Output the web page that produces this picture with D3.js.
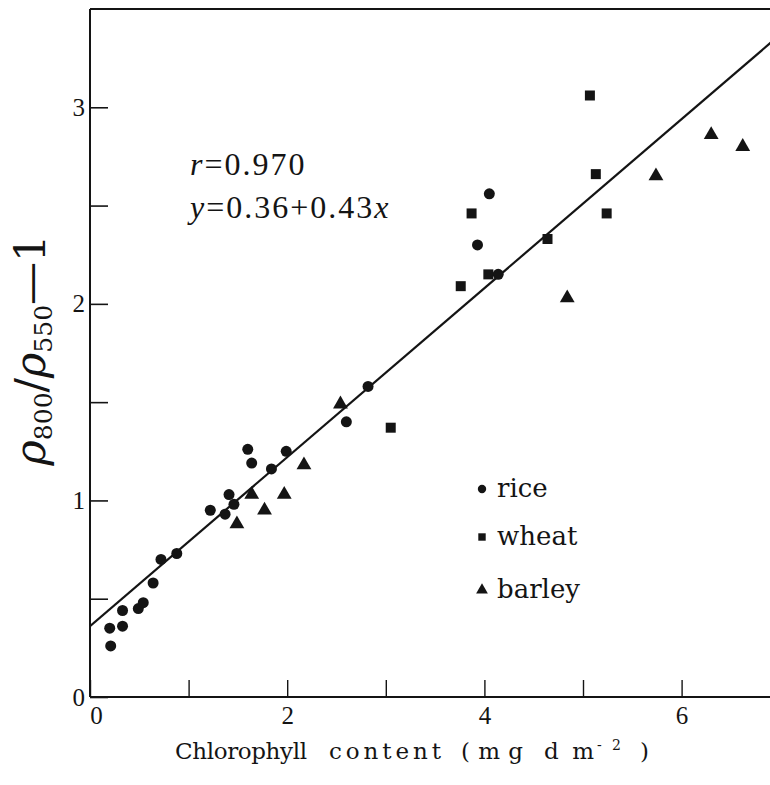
<!DOCTYPE html>
<html>
<head>
<meta charset="utf-8">
<script src="https://cdn.jsdelivr.net/npm/d3@7"></script>
<style>
  html, body { margin: 0; padding: 0; background: #fff; }
  svg { display: block; }
</style>
</head>
<body>
<svg id="chart" width="770" height="785"></svg>
<script>
// ---- data ----
const riceX  = [0.20, 0.21, 0.33, 0.33, 0.49, 0.54, 0.64, 0.72, 0.88, 1.22, 1.37, 1.41, 1.46, 1.60, 1.64, 1.84, 1.99, 2.60, 2.82, 3.93, 4.05, 4.14];
const riceY  = [0.35, 0.26, 0.36, 0.44, 0.45, 0.48, 0.58, 0.70, 0.73, 0.95, 0.93, 1.03, 0.98, 1.26, 1.19, 1.16, 1.25, 1.40, 1.58, 2.30, 2.56, 2.15];
const wheatX = [3.05, 3.76, 3.87, 4.04, 4.64, 5.07, 5.13, 5.24];
const wheatY = [1.37, 2.09, 2.46, 2.15, 2.33, 3.06, 2.66, 2.46];
const barleyX = [1.49, 1.64, 1.77, 1.97, 2.17, 2.54, 4.84, 5.74, 6.30, 6.62];
const barleyY = [0.88, 1.03, 0.95, 1.03, 1.18, 1.49, 2.03, 2.65, 2.86, 2.80];
const seriesNames = ["rice", "wheat", "barley"];
const xTickValues = [0, 1, 2, 3, 4, 5, 6];
const xTickLabels = [0, 2, 4, 6];
const yTickValues = [0, 0.5, 1, 1.5, 2, 2.5, 3];
const yTickLabels = [0, 1, 2, 3];
const fitIntercept = 0.36, fitSlope = 0.43;
const fitR = "0.970";
const xTitleWords = ["Chlorophyll", "content", "(mg", "dm"];

// ---- layout ----
const svg = d3.select("#chart");
const ink = "#141414";
const serif = "Liberation Serif, Times New Roman, DejaVu Serif, serif";
const plotLeft = 90, plotBottom = 697, plotTop = 9;
const x = d3.scaleLinear().domain([0, 7]).range([plotLeft, plotLeft + 7 * 98.6]);
const y = d3.scaleLinear().domain([0, 3.5]).range([plotBottom, plotTop]);

// frame lines
svg.append("line").attr("x1", plotLeft).attr("x2", 770).attr("y1", plotTop).attr("y2", plotTop)
  .attr("stroke", ink).attr("stroke-width", 2);
svg.append("line").attr("x1", plotLeft).attr("x2", plotLeft).attr("y1", plotTop).attr("y2", plotBottom)
  .attr("stroke", ink).attr("stroke-width", 2);
svg.append("line").attr("x1", plotLeft).attr("x2", 770).attr("y1", plotBottom).attr("y2", plotBottom)
  .attr("stroke", ink).attr("stroke-width", 2);

// x axis
const xAxis = d3.axisBottom(x).tickValues(xTickValues)
  .tickSizeInner(-17).tickSizeOuter(0).tickPadding(9)
  .tickFormat(d => xTickLabels.includes(d) ? d : "");
const gx = svg.append("g").attr("transform", `translate(0,${plotBottom})`).call(xAxis);
gx.select(".domain").remove();
gx.selectAll(".tick line").attr("stroke", ink).attr("stroke-width", 1.4);
gx.selectAll(".tick text").attr("font-family", serif).attr("font-size", 25)
  .attr("fill", ink).attr("dy", "0.72em")
  .attr("dx", d => d === 0 ? 6 : 0);

// y axis
const yAxis = d3.axisLeft(y).tickValues(yTickValues)
  .tickSizeInner(-18).tickSizeOuter(0).tickPadding(5)
  .tickFormat(d => yTickLabels.includes(d) ? d : "");
const gy = svg.append("g").attr("transform", `translate(${plotLeft},0)`).call(yAxis);
gy.select(".domain").remove();
gy.selectAll(".tick line").attr("stroke", ink).attr("stroke-width", 1.6);
gy.selectAll(".tick text").attr("font-family", serif).attr("font-size", 25)
  .attr("fill", ink);

// regression line
svg.append("defs").append("clipPath").attr("id", "plotclip")
  .append("rect").attr("x", plotLeft).attr("y", plotTop).attr("width", 770 - plotLeft).attr("height", plotBottom - plotTop);
const fitX = [0, 7];
svg.append("path")
  .datum(fitX.map(v => [v, fitIntercept + fitSlope * v]))
  .attr("clip-path", "url(#plotclip)")
  .attr("d", d3.line().x(d => x(d[0])).y(d => y(d[1])))
  .attr("fill", "none").attr("stroke", ink).attr("stroke-width", 2.2);

// points
const shapes = { rice: d3.symbolCircle, wheat: d3.symbolSquare, barley: d3.symbolTriangle };
const sizes = { rice: 95, wheat: 100, barley: 95 };
const seriesData = {
  rice: riceX.map((v, i) => [v, riceY[i]]),
  wheat: wheatX.map((v, i) => [v, wheatY[i]]),
  barley: barleyX.map((v, i) => [v, barleyY[i]])
};
seriesNames.forEach(name => {
  svg.append("g").selectAll("path").data(seriesData[name]).join("path")
    .attr("transform", d => `translate(${x(d[0])},${y(d[1])})`)
    .attr("d", d3.symbol().type(shapes[name]).size(sizes[name]))
    .attr("fill", ink);
});

// legend
const legendSizes = { rice: 55, wheat: 55, barley: 60 };
const legendY = [489, 537, 590];
seriesNames.forEach((name, i) => {
  svg.append("path")
    .attr("transform", `translate(482,${legendY[i]})`)
    .attr("d", d3.symbol().type(shapes[name]).size(legendSizes[name]))
    .attr("fill", ink);
  svg.append("text").attr("x", 497).attr("y", legendY[i] + 8)
    .attr("font-family", "DejaVu Serif").attr("font-size", 26).attr("fill", ink)
    .text(name);
});

// annotation
const ann1 = svg.append("text").attr("x", 190).attr("y", 175)
  .attr("font-family", serif).attr("font-size", 32).attr("letter-spacing", 2).attr("fill", ink);
ann1.append("tspan").attr("font-style", "italic").text("r");
ann1.append("tspan").text("=" + fitR);
const ann2 = svg.append("text").attr("x", 190).attr("y", 218)
  .attr("font-family", serif).attr("font-size", 32).attr("letter-spacing", 2).attr("fill", ink);
ann2.append("tspan").attr("font-style", "italic").text("y");
ann2.append("tspan").text("=" + fitIntercept + "+" + fitSlope);
ann2.append("tspan").attr("font-style", "italic").text("x");

// y-axis title
const yt = svg.append("text").attr("transform", "translate(45,350) rotate(-90)")
  .attr("text-anchor", "middle").attr("font-family", "DejaVu Serif").attr("fill", ink)
  .attr("font-size", 43);
yt.append("tspan").attr("font-style", "italic").text("ρ");
yt.append("tspan").attr("font-size", 25).attr("dy", 7).text("800");
yt.append("tspan").attr("dy", -7).text("/");
yt.append("tspan").attr("font-style", "italic").text("ρ");
yt.append("tspan").attr("font-size", 25).attr("dy", 7).text("550");
yt.append("tspan").attr("dy", -7).text("—1");

// x-axis title (word by word, following the wide typesetting)
const xWordPos = [[175, 132], [329, 112], [461, 62], [544, 50]];
const xt = svg.append("g").attr("font-family", "DejaVu Serif").attr("font-size", 23).attr("fill", ink);
xTitleWords.forEach((w, i) => {
  xt.append("text").attr("x", xWordPos[i][0]).attr("y", 759)
    .attr("textLength", xWordPos[i][1]).attr("lengthAdjust", "spacing").text(w);
});
xt.append("text").attr("x", 597).attr("y", 750).attr("font-size", 14)
  .attr("textLength", 24).attr("lengthAdjust", "spacing").text("-2");
xt.append("text").attr("x", 640).attr("y", 759).text(")");
</script>
</body>
</html>
